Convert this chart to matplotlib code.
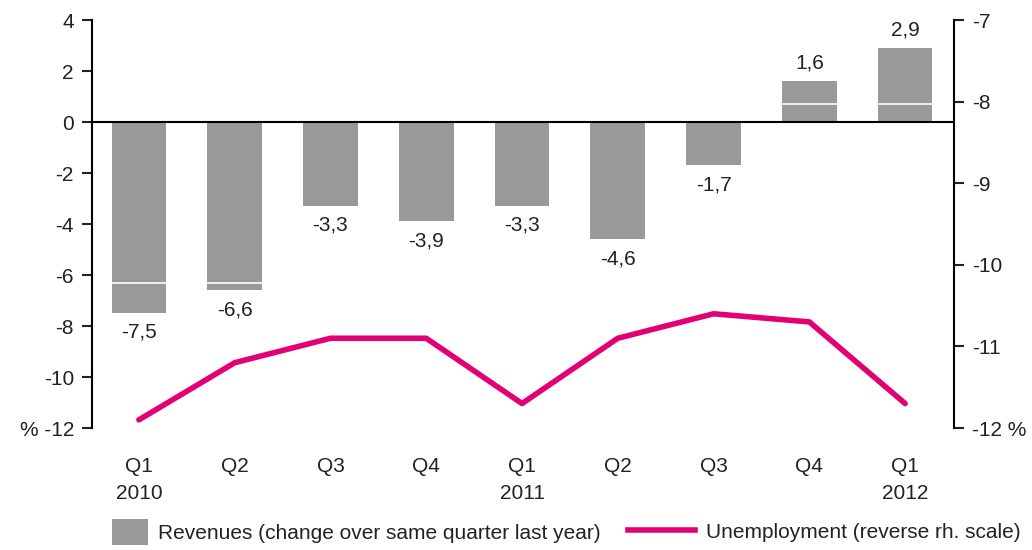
import matplotlib
matplotlib.use("Agg")
import matplotlib.pyplot as plt
from matplotlib.patches import Patch
from matplotlib.lines import Line2D
import numpy as np

quarters = ["Q1\n2010", "Q2", "Q3", "Q4", "Q1\n2011", "Q2", "Q3", "Q4", "Q1\n2012"]
revenues = [-7.5, -6.6, -3.3, -3.9, -3.3, -4.6, -1.7, 1.6, 2.9]
revenue_labels = ["-7,5", "-6,6", "-3,3", "-3,9", "-3,3", "-4,6", "-1,7", "1,6", "2,9"]
# thin white seams visible inside some bars
seams = [-6.3, -6.3, np.nan, np.nan, np.nan, np.nan, np.nan, 0.7, 0.7]
unemployment = [-11.9, -11.2, -10.9, -10.9, -11.7, -10.9, -10.6, -10.7, -11.7]

left_ticks = [4, 2, 0, -2, -4, -6, -8, -10, -12]
left_ticklabels = ["4", "2", "0", "-2", "-4", "-6", "-8", "-10", "% -12"]
right_ticks = [-7, -8, -9, -10, -11, -12]
right_ticklabels = ["-7", "-8", "-9", "-10", "-11", "-12 %"]

gray = "#999999"
magenta = "#E20074"

plt.rcParams['font.family'] = ['Liberation Sans', 'DejaVu Sans']
plt.rcParams['font.size'] = 15

fig = plt.figure(figsize=(10.32, 5.5), dpi=100)
ax = fig.add_axes([0.0891, 0.2218, 0.8353, 0.7418])
ax2 = ax.twinx()

x = np.arange(len(quarters))
w = 0.57
ax.bar(x, revenues, width=w, color=gray, zorder=2)
ax.hlines(seams, x - w / 2, x + w / 2, colors="white", lw=1.2, zorder=3)
ax.axhline(0, color="black", lw=1.5, zorder=4)

for xi, v, lab in zip(x, revenues, revenue_labels):
    if v < 0:
        ax.annotate(lab, (xi, v), xytext=(0, -7), textcoords="offset points",
                    ha="center", va="top", color="#222222")
    else:
        ax.annotate(lab, (xi, v), xytext=(0, 6), textcoords="offset points",
                    ha="center", va="bottom", color="#222222")

ax2.plot(x, unemployment, color=magenta, lw=4, solid_capstyle="round", zorder=5)

ax.set_xlim(-0.49, len(quarters) - 1 + 0.51)
ax.set_ylim(-12, 4)
ax2.set_ylim(-12, -7)
ax.set_yticks(left_ticks)
ax.set_yticklabels(left_ticklabels)
ax2.set_yticks(right_ticks)
ax2.set_yticklabels(right_ticklabels)
ax.set_xticks(x)
ax.set_xticklabels(quarters, linespacing=1.55)

for a in (ax, ax2):
    for s in ("top", "bottom"):
        a.spines[s].set_visible(False)
    a.spines["left"].set_linewidth(1.5)
    a.spines["right"].set_linewidth(1.5)
ax.spines["right"].set_visible(False)
ax2.spines["left"].set_visible(False)
ax.tick_params(axis="y", length=7, width=1.5, pad=6, colors="#222222")
ax2.tick_params(axis="y", length=7, width=1.5, pad=6, colors="#222222")
ax.tick_params(axis="x", length=0, pad=21, colors="#222222")

h1 = [Patch(facecolor=gray, edgecolor="none")]
h2 = [Line2D([0], [0], color=magenta, lw=4)]
fig.legend(h1, ["Revenues (change over same quarter last year)"], loc="center left",
           bbox_to_anchor=(112 / 1032, 1 - 532 / 550), frameon=False, borderpad=0,
           borderaxespad=0, handlelength=1.75, handleheight=1.5, handletextpad=0.45,
           labelcolor="#222222")
fig.legend(h2, ["Unemployment (reverse rh. scale)"], loc="center left",
           bbox_to_anchor=(628 / 1032, 1 - 532 / 550), frameon=False, borderpad=0,
           borderaxespad=0, handlelength=3.2, handletextpad=0.55,
           labelcolor="#222222")

fig.savefig("out.png", dpi=100)
